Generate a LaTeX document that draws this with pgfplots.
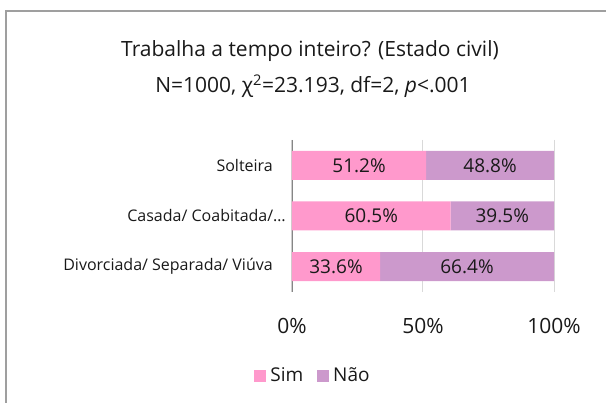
\documentclass[border=0pt]{standalone}
\usepackage{pgfplots}
\pgfplotsset{compat=1.18}
\usepackage{fontspec}
\setmainfont{Open Sans}
\definecolor{sim}{HTML}{FF99CC}
\definecolor{nao}{HTML}{CC99CC}
\definecolor{gridc}{HTML}{D9D9D9}
\definecolor{axc}{HTML}{868686}
\begin{document}
\begin{tikzpicture}[x=1pt,y=1pt]
\useasboundingbox (0,0) rectangle (606,403);
\begin{scope}
\clip (0,0) rectangle (606,403);
\draw[gray!75, line width=1.6pt] (6,-10) -- (6,392) -- (620,392);
\end{scope}
\node[font=\fontsize{21}{24}\selectfont, anchor=base, text=black!90] at (310,346) {Trabalha a tempo inteiro? (Estado civil)};
\node[font=\fontsize{21}{24}\selectfont, anchor=base, text=black!90] at (313,310) {N=1000, χ\textsuperscript{2}=23.193, df=2, \textit{p}<.001};
\begin{axis}[
  at={(292pt,111pt)}, anchor=south west,
  scale only axis, width=262pt, height=152pt,
  xbar stacked, bar width=29pt,
  xmin=0, xmax=100, ymin=0.5, ymax=3.5, y dir=reverse,
  ytick={1,2,3},
  yticklabels={Solteira, {Casada/ Coabitada/…\kern-13pt}, {Divorciada/ Separada/ Viúva}},
  yticklabel style={font=\fontsize{16}{18}\selectfont, anchor=east, inner sep=0pt, xshift=-19pt, text=black!90},
  xtick={0,50,100}, xticklabels={0\%,50\%,100\%},
  xticklabel style={font=\fontsize{21}{24}\selectfont, inner sep=0pt, yshift=-26pt, text=black!90},
  major tick length=0pt,
  xmajorgrids, grid style={gridc, line width=1pt},
  axis line style={draw=none},
  legend columns=2,
  legend style={at={(0.08,-0.55)}, anchor=center, draw=none, fill=none,
    font=\fontsize{19}{22}\selectfont, text=black!90,
    /tikz/every even column/.append style={column sep=12pt}},
  legend image code/.code={\fill[#1] (0pt,-6pt) rectangle (12pt,6pt);},
]
\addplot[fill=sim, draw=none] coordinates {(51.2,1) (60.5,2) (33.6,3)};
\addlegendentry{\hspace{2pt}Sim}
\addplot[fill=nao, draw=none] coordinates {(48.8,1) (39.5,2) (66.4,3)};
\addlegendentry{\hspace{2pt}Não}
\draw[axc, line width=1.2pt] (axis cs:0,0.5) -- (axis cs:0,3.5);
\end{axis}
\begin{axis}[
  at={(292pt,111pt)}, anchor=south west,
  scale only axis, width=262pt, height=152pt,
  xmin=0, xmax=100, ymin=0.5, ymax=3.5, y dir=reverse,
  hide axis,
]
\addplot[only marks, mark=none, nodes near coords, point meta=explicit symbolic,
  nodes near coords align=center,
  every node near coord/.append style={font=\fontsize{19}{22}\selectfont, text=black!90}]
  coordinates {(25.6,1)[51.2\%] (75.6,1)[48.8\%] (30.25,2)[60.5\%] (80.25,2)[39.5\%] (16.8,3)[33.6\%] (66.8,3)[66.4\%]};
\end{axis}
\end{tikzpicture}
\end{document}
